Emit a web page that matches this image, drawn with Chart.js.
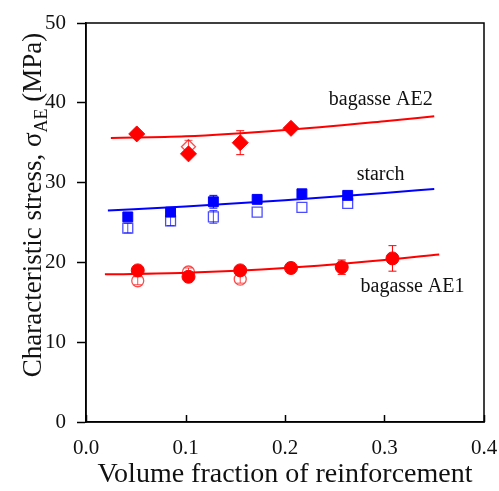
<!DOCTYPE html>
<html>
<head>
<meta charset="utf-8">
<script src="https://cdn.jsdelivr.net/npm/chart.js@4"></script>
<style>
  html, body { margin: 0; padding: 0; background: #fff; }
  #wrap { width: 499px; height: 491px; }
</style>
</head>
<body>
<div id="wrap"><canvas id="chart"></canvas></div>
<script>
// values
const ae2X = [0.051, 0.103, 0.155, 0.206];
const ae2Y = [36.1, 33.6, 35.0, 36.8];
const ae2Err = [0.3, 0.3, 1.5, 0.3];
const ae2OpenX = [0.103];
const ae2OpenY = [34.5];
const ae2OpenErr = [0.8];

const starchX = [0.042, 0.085, 0.128, 0.172, 0.217, 0.263];
const starchY = [25.7, 26.3, 27.6, 27.9, 28.6, 28.4];
const starchErr = [0.4, 0.4, 0.8, 0.3, 0.3, 0.3];
const starchOpenY = [24.3, 25.2, 25.7, 26.3, 26.9, 27.4];
const starchOpenErr = [0.6, 0.6, 0.8, 0, 0, 0];

const ae1X = [0.052, 0.103, 0.155, 0.206, 0.257, 0.308];
const ae1Y = [19.0, 18.2, 19.0, 19.3, 19.4, 20.5];
const ae1Err = [0.5, 0.4, 0.4, 0.6, 0.9, 1.6];
const ae1OpenX = [0.052, 0.103, 0.155];
const ae1OpenY = [17.7, 18.8, 17.9];
const ae1OpenErr = [0.5, 0.5, 0.5];

// fitted curves
const ae2FitX = [0.025, 0.1, 0.2, 0.3, 0.35];
const ae2FitY = [35.6, 35.8, 36.6, 37.7, 38.3];
const starchFitX = [0.022, 0.1, 0.2, 0.3, 0.35];
const starchFitY = [26.5, 27.0, 27.8, 28.7, 29.2];
const ae1FitX = [0.019, 0.1, 0.2, 0.3, 0.355];
const ae1FitY = [18.5, 18.7, 19.3, 20.3, 21.0];

const xTicks = [0, 0.1, 0.2, 0.3, 0.4];
const yTicks = [0, 10, 20, 30, 40, 50];

const labels = [
    { text: 'bagasse AE2', x: 0.244, y: 39.7 },
    { text: 'starch', x: 0.272, y: 30.3 },
    { text: 'bagasse AE1', x: 0.276, y: 16.3 }
];

const RED = '#ff0000';
const BLUE = '#0000ff';
const SERIF = "'Liberation Serif', 'Times New Roman', serif";

const pts = (xs, ys) => xs.map((x, i) => ({ x: x, y: ys[i] }));

function fitLine(xs, ys, color) {
    return {
        type: 'line', data: pts(xs, ys), borderColor: color, borderWidth: 2,
        pointRadius: 0, fill: false, cubicInterpolationMode: 'monotone'
    };
}

function markers(xs, ys, errs, style, r, color, filled) {
    return {
        type: 'scatter', data: pts(xs, ys), errors: errs,
        pointStyle: style, pointRadius: r, pointHoverRadius: r,
        backgroundColor: filled ? color : 'rgba(0,0,0,0)',
        borderColor: color, borderWidth: filled ? 1 : 1.3
    };
}

// error bars, frame, inward x ticks, y title, curve labels
const extras = {
    id: 'extras',
    beforeDatasetsDraw(chart) {
        const { ctx } = chart;
        const xs = chart.scales.x, ys = chart.scales.y;
        chart.data.datasets.forEach(ds => {
            if (!ds.errors) return;
            ctx.save();
            ctx.strokeStyle = ds.borderColor;
            ctx.lineWidth = 1;
            ds.data.forEach((p, i) => {
                const e = ds.errors[i];
                if (!e) return;
                const px = xs.getPixelForValue(p.x);
                const top = ys.getPixelForValue(p.y + e);
                const bot = ys.getPixelForValue(p.y - e);
                ctx.beginPath();
                ctx.moveTo(px, top); ctx.lineTo(px, bot);
                ctx.moveTo(px - 4, top); ctx.lineTo(px + 4, top);
                ctx.moveTo(px - 4, bot); ctx.lineTo(px + 4, bot);
                ctx.stroke();
            });
            ctx.restore();
        });
    },
    afterDraw(chart) {
        const { ctx, chartArea: a } = chart;
        const xs = chart.scales.x, ys = chart.scales.y;
        ctx.save();
        ctx.strokeStyle = '#000';
        ctx.lineWidth = 1.5;
        ctx.strokeRect(a.left, a.top, a.right - a.left, a.bottom - a.top);
        ctx.beginPath();
        xTicks.forEach(v => {
            const px = Math.round(xs.getPixelForValue(v)) + 0.5;
            ctx.moveTo(px, a.bottom);
            ctx.lineTo(px, a.bottom - 7);
        });
        ctx.stroke();

        // curve labels
        ctx.fillStyle = '#111';
        ctx.font = '20px ' + SERIF;
        ctx.textAlign = 'left';
        ctx.textBaseline = 'alphabetic';
        labels.forEach(l => {
            ctx.fillText(l.text, xs.getPixelForValue(l.x), ys.getPixelForValue(l.y));
        });

        // y axis title with subscript
        const big = '27px ' + SERIF, small = '18px ' + SERIF;
        const parts = [
            { t: 'Characteristic stress, \u03c3', f: big, dy: 0 },
            { t: 'AE', f: small, dy: 6 },
            { t: ' (MPa)', f: big, dy: 0 }
        ];
        let total = 0;
        parts.forEach(p => { ctx.font = p.f; p.w = ctx.measureText(p.t).width; total += p.w; });
        ctx.translate(41, 205);
        ctx.rotate(-Math.PI / 2);
        let cx = -total / 2;
        parts.forEach(p => {
            ctx.font = p.f;
            ctx.fillText(p.t, cx, p.dy);
            cx += p.w;
        });
        ctx.restore();
    }
};

new Chart(document.getElementById('chart'), {
    data: {
        datasets: [
            fitLine(ae2FitX, ae2FitY, RED),
            fitLine(starchFitX, starchFitY, BLUE),
            fitLine(ae1FitX, ae1FitY, RED),
            markers(ae2OpenX, ae2OpenY, ae2OpenErr, 'rectRot', 7, 'rgba(255,0,0,0.7)', false),
            markers(ae2X, ae2Y, ae2Err, 'rectRot', 8, RED, true),
            markers(starchX, starchOpenY, starchOpenErr, 'rect', 7, 'rgba(0,0,255,0.7)', false),
            markers(starchX, starchY, starchErr, 'rect', 7, BLUE, true),
            markers(ae1OpenX, ae1OpenY, ae1OpenErr, 'circle', 6, 'rgba(255,0,0,0.7)', false),
            markers(ae1X, ae1Y, ae1Err, 'circle', 6.5, RED, true)
        ]
    },
    options: {
        responsive: true,
        maintainAspectRatio: false,
        animation: false,
        layout: { padding: { top: 23, right: 15, left: 0, bottom: 0 } },
        plugins: { legend: { display: false }, tooltip: { enabled: false } },
        scales: {
            x: {
                type: 'linear', min: 0, max: 0.4,
                afterBuildTicks: s => { s.ticks = xTicks.map(v => ({ value: v })); },
                afterFit: s => { s.height = 69; s.paddingLeft = 0; s.paddingRight = 0; },
                border: { color: '#000', width: 1.5 },
                grid: { drawOnChartArea: false, drawTicks: false },
                ticks: {
                    color: '#111', padding: 14,
                    font: { family: SERIF, size: 21 },
                    callback: v => v.toFixed(1)
                },
                title: {
                    display: true, text: 'Volume fraction of reinforcement',
                    color: '#111', font: { family: SERIF, size: 28 },
                    padding: { top: 0, bottom: 0 }
                }
            },
            y: {
                type: 'linear', min: 0, max: 50,
                afterBuildTicks: s => { s.ticks = yTicks.map(v => ({ value: v })); },
                afterFit: s => { s.width = 86; s.paddingTop = 0; s.paddingBottom = 0; },
                border: { color: '#000', width: 1.5 },
                grid: { drawOnChartArea: false, drawTicks: true, tickLength: 9, color: '#000', tickWidth: 1.5 },
                ticks: {
                    color: '#111', padding: 11,
                    font: { family: SERIF, size: 21 }
                }
            }
        }
    },
    plugins: [extras]
});
</script>
</body>
</html>
